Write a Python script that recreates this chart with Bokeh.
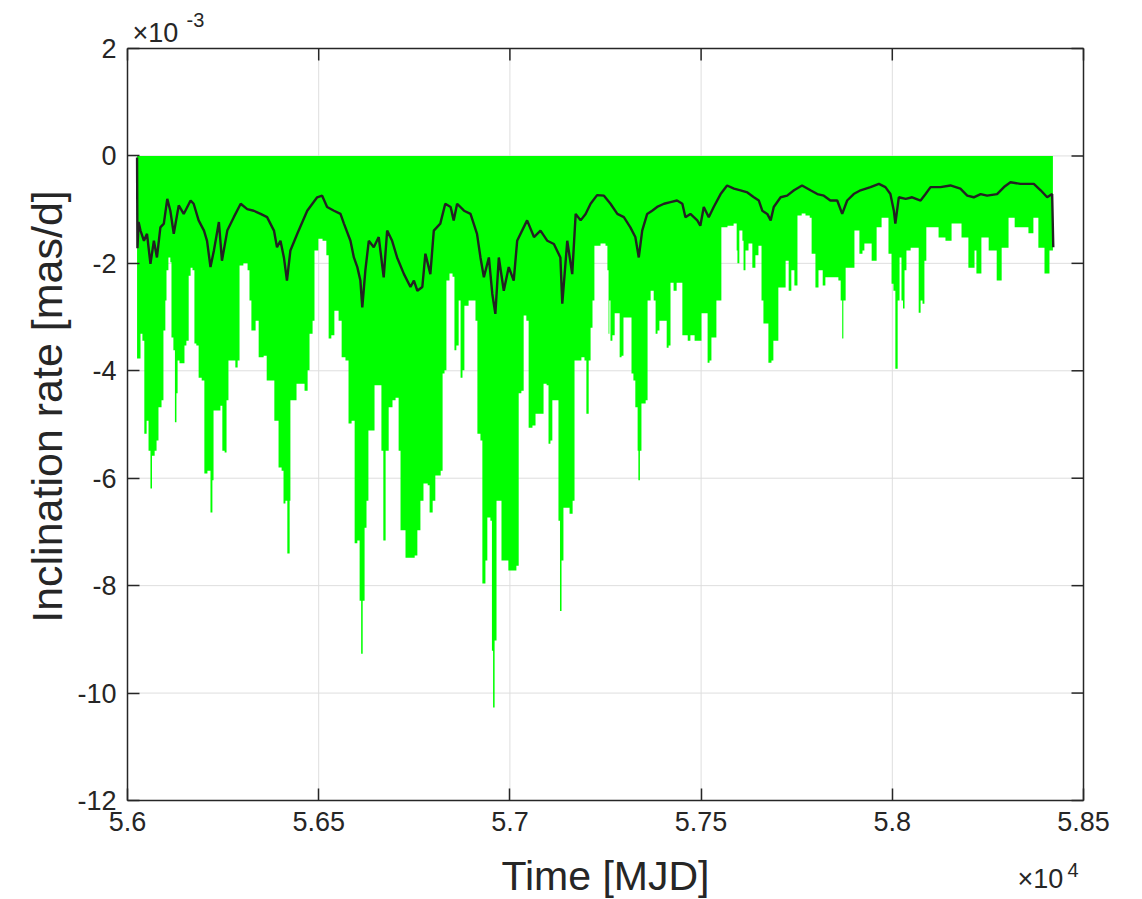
import math
from bokeh.plotting import figure
from bokeh.models import FixedTicker, Label, Range1d, ColumnDataSource, LinearAxis
from bokeh.embed import file_html
from bokeh.resources import INLINE

# ---------------- data (values in units of 1e-3 mas/d, time in MJD) ----------------
mean_t = [56025, 56026, 56029, 56034, 56043, 56051, 56060, 56069, 56077, 56086,
          56095, 56104, 56112, 56121, 56134, 56147, 56165, 56173, 56186, 56200,
          56208, 56217, 56226, 56239, 56247, 56261, 56278, 56296, 56313, 56330,
          56348, 56365, 56383, 56391, 56400, 56409, 56417, 56426, 56444, 56470,
          56496, 56509, 56522, 56540, 56557, 56566, 56583, 56592, 56601, 56609,
          56614, 56622, 56631, 56644, 56657, 56670, 56679, 56692, 56705, 56723,
          56740, 56749, 56758, 56771, 56779, 56792, 56801, 56818, 56831, 56845,
          56853, 56862, 56880, 56897, 56914, 56923, 56932, 56945, 56954, 56962,
          56971, 56984, 56997, 57010, 57019, 57036, 57045, 57063, 57080, 57098,
          57115, 57132, 57137, 57150, 57163, 57172, 57185, 57198, 57211, 57228,
          57246, 57263, 57281, 57298, 57315, 57328, 57337, 57346, 57359, 57372,
          57385, 57403, 57420, 57437, 57451, 57459, 57472, 57490, 57498, 57507,
          57520, 57533, 57551, 57568, 57586, 57603, 57621, 57638, 57651, 57660,
          57673, 57682, 57690, 57708, 57725, 57743, 57764, 57786, 57804, 57821,
          57838, 57856, 57869, 57882, 57899, 57917, 57943, 57965, 57982, 57995,
          58004, 58008, 58017, 58035, 58052, 58074, 58087, 58100, 58126, 58152,
          58178, 58196, 58213, 58231, 58248, 58274, 58292, 58309, 58335, 58353,
          58370, 58388, 58405, 58418, 58421]
mean_v = [-0.03, -1.72, -1.23, -1.39, -1.58, -1.45, -2.01, -1.58, -1.89, -1.33,
          -1.26, -0.80, -1.02, -1.45, -0.92, -1.08, -0.83, -0.89, -1.20, -1.39,
          -1.58, -2.07, -1.76, -1.23, -1.95, -1.39, -1.14, -0.89, -0.99, -1.02,
          -1.08, -1.14, -1.39, -1.70, -1.58, -1.89, -2.32, -1.76, -1.45, -1.02,
          -0.77, -0.74, -0.95, -1.02, -1.08, -1.26, -1.58, -1.89, -2.07, -2.32,
          -2.82, -2.13, -1.58, -1.70, -1.51, -2.26, -1.39, -1.58, -1.89, -2.20,
          -2.44, -2.32, -2.51, -2.44, -1.82, -2.20, -1.39, -1.26, -0.89, -0.95,
          -1.20, -0.89, -1.02, -1.08, -1.45, -1.89, -2.26, -1.89, -2.57, -2.94,
          -1.89, -2.51, -2.07, -2.32, -1.58, -1.33, -1.20, -1.51, -1.39, -1.58,
          -1.64, -1.89, -2.75, -1.58, -2.20, -1.08, -1.20, -1.08, -0.89, -0.73,
          -0.74, -0.89, -1.08, -1.14, -1.33, -1.51, -1.89, -1.39, -1.08, -1.02,
          -0.95, -0.89, -0.86, -0.83, -0.89, -1.14, -1.08, -1.20, -1.30, -0.95,
          -1.14, -0.95, -0.71, -0.55, -0.61, -0.64, -0.68, -0.77, -0.83, -1.02,
          -1.08, -1.20, -0.95, -0.77, -0.74, -0.64, -0.55, -0.64, -0.71, -0.74,
          -0.83, -0.83, -1.08, -0.83, -0.71, -0.64, -0.58, -0.52, -0.58, -0.71,
          -1.02, -1.26, -0.77, -0.80, -0.77, -0.83, -0.71, -0.58, -0.58, -0.55,
          -0.61, -0.74, -0.77, -0.71, -0.74, -0.71, -0.58, -0.49, -0.52, -0.52,
          -0.52, -0.64, -0.77, -0.71, -1.70]

low_t = [56025, 56029, 56034, 56039, 56044, 56050, 56055, 56060, 56064, 56071,
         56076, 56081, 56089, 56094, 56099, 56102, 56107, 56112, 56115, 56120,
         56124, 56128, 56131, 56136, 56144, 56149, 56154, 56160, 56165, 56170,
         56175, 56180, 56186, 56194, 56201, 56209, 56217, 56222, 56225, 56235,
         56243, 56248, 56254, 56259, 56264, 56275, 56282, 56288, 56293, 56303,
         56314, 56319, 56324, 56335, 56343, 56356, 56364, 56377, 56384, 56395,
         56403, 56408, 56413, 56418, 56424, 56426, 56434, 56442, 56455, 56463,
         56471, 56476, 56484, 56489, 56499, 56510, 56520, 56526, 56533, 56541,
         56552, 56560, 56570, 56578, 56586, 56594, 56601, 56607, 56611, 56615,
         56620, 56625, 56630, 56638, 56646, 56656, 56664, 56669, 56675, 56683,
         56693, 56701, 56709, 56714, 56727, 56740, 56751, 56758, 56766, 56774,
         56785, 56790, 56798, 56805, 56819, 56824, 56829, 56834, 56842, 56850,
         56855, 56860, 56866, 56871, 56876, 56881, 56892, 56902, 56910, 56915,
         56923, 56928, 56936, 56941, 56949, 56953, 56956, 56960, 56965, 56973,
         56978, 56988, 56996, 57009, 57017, 57023, 57030, 57036, 57043, 57049,
         57059, 57067, 57080, 57088, 57096, 57101, 57106, 57111, 57122, 57127,
         57131, 57135, 57140, 57148, 57156, 57164, 57169, 57179, 57187, 57195,
         57200, 57206, 57211, 57216, 57221, 57237, 57250, 57255, 57258, 57260,
         57263, 57268, 57274, 57281, 57287, 57292, 57297, 57313, 57318, 57323,
         57328, 57334, 57336, 57340, 57344, 57355, 57360, 57368, 57376, 57381,
         57386, 57391, 57402, 57410, 57415, 57420, 57428, 57436, 57446, 57451,
         57465, 57472, 57483, 57496, 57501, 57512, 57517, 57522, 57527, 57535,
         57540, 57548, 57553, 57569, 57585, 57593, 57595, 57600, 57608, 57611,
         57616, 57624, 57634, 57642, 57650, 57658, 57663, 57671, 57676, 57684,
         57689, 57697, 57702, 57713, 57721, 57729, 57736, 57744, 57752, 57763,
         57773, 57784, 57789, 57799, 57807, 57818, 57825, 57844, 57859, 57865,
         57869, 57872, 57878, 57893, 57901, 57909, 57914, 57922, 57927, 57940,
         57946, 57953, 57959, 57967, 57972, 57982, 57990, 57998, 58003, 58008,
         58014, 58019, 58024, 58028, 58032, 58037, 58048, 58063, 58069, 58074,
         58079, 58084, 58089, 58116, 58121, 58134, 58139, 58150, 58155, 58176,
         58181, 58194, 58199, 58207, 58215, 58220, 58228, 58233, 58246, 58252,
         58267, 58273, 58280, 58286, 58299, 58304, 58314, 58320, 58351, 58356,
         58364, 58369, 58377, 58382, 58393, 58398, 58406, 58411, 58420]
low_v = [-3.77, -3.77, -3.31, -3.44, -5.17, -4.93, -5.49, -6.19, -5.58, -5.49,
         -5.30, -4.68, -4.55, -3.25, -2.69, -2.13, -1.89, -1.98, -3.38, -3.62,
         -4.96, -4.42, -3.81, -3.86, -3.86, -3.53, -3.44, -2.23, -2.08, -2.13,
         -3.49, -3.53, -4.13, -4.18, -5.91, -5.86, -6.64, -6.04, -4.74, -4.74,
         -4.65, -5.49, -5.52, -4.55, -3.81, -3.81, -3.94, -3.81, -2.04, -2.00,
         -2.13, -2.69, -3.25, -3.07, -3.75, -3.72, -4.18, -4.18, -4.93, -5.80,
         -5.86, -6.47, -6.42, -7.40, -6.42, -4.55, -4.55, -4.24, -4.24, -4.37,
         -3.99, -3.31, -3.07, -1.76, -1.54, -1.58, -1.85, -3.40, -3.34, -2.88,
         -3.07, -3.75, -3.81, -4.98, -4.93, -7.21, -7.16, -8.28, -9.27, -8.28,
         -6.92, -6.42, -5.11, -5.11, -4.27, -4.27, -5.49, -7.16, -5.49, -4.68,
         -4.55, -4.50, -5.49, -6.97, -7.48, -7.48, -7.44, -6.97, -6.42, -6.10,
         -6.13, -6.64, -6.42, -5.95, -5.86, -4.05, -3.99, -2.32, -2.19, -2.25,
         -3.62, -3.53, -2.69, -4.13, -3.99, -2.79, -2.69, -2.69, -3.07, -5.17,
         -5.30, -7.96, -7.53, -6.73, -6.79, -9.21, -10.27, -9.02, -6.42, -6.42,
         -7.53, -7.53, -7.72, -7.72, -7.63, -4.42, -4.37, -2.97, -3.07, -5.06,
         -5.02, -4.80, -4.80, -4.24, -4.27, -5.36, -5.30, -4.55, -4.55, -6.79,
         -8.47, -7.53, -6.55, -6.55, -6.66, -6.42, -3.81, -3.81, -3.75, -3.81,
         -4.80, -3.81, -3.20, -2.69, -1.67, -1.63, -1.67, -2.13, -3.31, -2.69,
         -3.44, -3.34, -2.93, -2.93, -3.75, -3.72, -3.01, -3.01, -4.05, -4.18,
         -4.68, -5.49, -6.04, -5.49, -4.61, -4.55, -2.69, -2.51, -2.69, -3.31,
         -3.25, -3.07, -3.07, -3.57, -3.53, -2.36, -2.51, -2.36, -2.36, -3.34,
         -3.44, -3.34, -3.44, -3.44, -2.93, -2.93, -3.85, -3.81, -3.38, -3.38,
         -2.69, -2.69, -1.33, -1.30, -1.26, -1.76, -2.00, -1.39, -1.58, -2.13,
         -1.76, -1.63, -2.08, -1.85, -1.67, -2.69, -3.12, -3.12, -3.85, -3.81,
         -3.44, -3.44, -2.45, -2.45, -1.95, -2.51, -2.13, -2.41, -1.11, -1.07,
         -1.11, -1.15, -1.82, -2.45, -2.13, -2.41, -2.26, -2.26, -2.32, -2.69,
         -3.40, -2.69, -2.08, -2.08, -1.39, -1.39, -1.82, -1.76, -1.63, -1.63,
         -1.95, -1.95, -1.33, -1.33, -1.15, -1.15, -1.82, -2.38, -2.51, -3.96,
         -2.69, -1.89, -2.69, -2.84, -2.13, -1.76, -1.71, -1.71, -2.92, -2.69,
         -2.75, -1.95, -1.33, -1.33, -1.52, -1.52, -1.58, -1.58, -1.26, -1.26,
         -1.52, -1.52, -2.08, -2.08, -1.76, -2.19, -2.19, -1.52, -1.52, -1.76,
         -1.76, -2.32, -2.32, -1.71, -1.71, -1.15, -1.15, -1.33, -1.33, -1.44,
         -1.44, -1.15, -1.15, -1.71, -1.71, -2.19, -2.19, -1.76, -1.76]

x_ticks = [56000, 56500, 57000, 57500, 58000, 58500]
x_tick_labels = ["5.6", "5.65", "5.7", "5.75", "5.8", "5.85"]
y_ticks = [-12, -10, -8, -6, -4, -2, 0, 2]
y_tick_labels = ["-12", "-10", "-8", "-6", "-4", "-2", "0", "2"]

assert len(mean_t) == len(mean_v)
assert len(low_t) == len(low_v)

# ---------------- layout constants ----------------
FONT = "Liberation Sans"
TXT = "#262626"
GRID = "#dedede"
W, H = 1140, 898
FL, FT, FR, FB = 127, 48, 1083, 800        # axes box in canvas pixels
X0, X1, Y0, Y1 = 56000, 58500, -12, 2      # axes limits
sx = (X1 - X0) / (FR - FL)                 # data units per pixel
sy = (Y1 - Y0) / (FB - FT)

# the plotting frame covers the whole canvas; the axes box sits inside it
p = figure(width=W, height=H, output_backend="svg", toolbar_location=None,
           x_range=Range1d(X0 - FL * sx, X1 + (W - FR) * sx),
           y_range=Range1d(Y0 - (H - FB) * sy, Y1 + FT * sy),
           x_axis_location=None, y_axis_location=None,
           min_border=0, background_fill_color="white",
           border_fill_color="white", outline_line_color=None)
for g in p.grid:
    g.visible = False

# grid lines restricted to the axes box (drawn under the data)
p.segment(x0=x_ticks, x1=x_ticks, y0=[Y0] * len(x_ticks), y1=[Y1] * len(x_ticks),
          line_color=GRID, line_width=1)
p.segment(x0=[X0] * len(y_ticks), x1=[X1] * len(y_ticks), y0=y_ticks, y1=y_ticks,
          line_color=GRID, line_width=1)

low_src = ColumnDataSource(dict(t=low_t, v=low_v, z=[0.0] * len(low_t)))
p.varea_step(x="t", y1="z", y2="v", source=low_src, step_mode="after",
             fill_color="#00ff00", fill_alpha=1.0)

mean_src = ColumnDataSource(dict(t=mean_t, v=mean_v))
p.line(x="t", y="v", source=mean_src, line_color="#222222", line_width=2.4)

# real axes, pinned to the edges of the axes box
def style(ax):
    ax.major_tick_in = 12
    ax.major_tick_out = 0
    ax.minor_tick_line_color = None
    ax.axis_line_color = TXT
    ax.axis_line_width = 1.5
    ax.major_tick_line_color = TXT
    ax.major_tick_line_width = 1.5
    ax.major_label_text_font = FONT
    ax.major_label_text_font_size = "27px"
    ax.major_label_text_color = TXT
    ax.major_label_standoff = 11

xax = LinearAxis(fixed_location=Y0, bounds=(X0, X1), ticker=FixedTicker(ticks=x_ticks),
                 major_label_overrides=dict(zip(x_ticks, x_tick_labels)))
yax = LinearAxis(fixed_location=X0, bounds=(Y0, Y1), ticker=FixedTicker(ticks=y_ticks),
                 major_label_overrides=dict(zip(y_ticks, y_tick_labels)))
style(xax)
style(yax)
p.add_layout(xax, "below")
p.add_layout(yax, "left")

# top and right edges of the box, with inward ticks (MATLAB "box on")
p.segment(x0=[X0, X1], x1=[X1, X1], y0=[Y1, Y0], y1=[Y1, Y1], line_color=TXT, line_width=1.5)
tlx = 12 * sx
tly = 12 * sy
p.segment(x0=x_ticks, x1=x_ticks, y0=[Y1] * len(x_ticks), y1=[Y1 - tly] * len(x_ticks),
          line_color=TXT, line_width=1.5)
p.segment(x0=[X1] * len(y_ticks), x1=[X1 - tlx] * len(y_ticks), y0=y_ticks, y1=y_ticks,
          line_color=TXT, line_width=1.5)

# texts (screen units from the canvas bottom-left corner)
BASE = 9   # correction so that the alphabetic baseline lands where intended
def lab(x, y, text, size, **kw):
    p.add_layout(Label(x=x, y=y, x_units="screen", y_units="screen", text=text,
                       text_font=FONT, text_font_size=size, text_color=TXT, **kw))

lab(605, H - 884 + BASE, "Time [MJD]", "41px", text_align="center", text_baseline="alphabetic")
lab(46, H - 406, "Inclination rate [mas/d]", "43px", angle=math.pi / 2,
    text_align="center", text_baseline="middle")
lab(132, H - 41 + BASE, "\u00d710", "27px", text_baseline="alphabetic")
lab(186, H - 28 + BASE, "-3", "20px", text_baseline="alphabetic")
lab(1017, H - 887 + BASE, "\u00d710", "27px", text_baseline="alphabetic")
lab(1067, H - 878 + BASE, "4", "20px", text_baseline="alphabetic")

open("out.html", "w").write(file_html(p, INLINE))
